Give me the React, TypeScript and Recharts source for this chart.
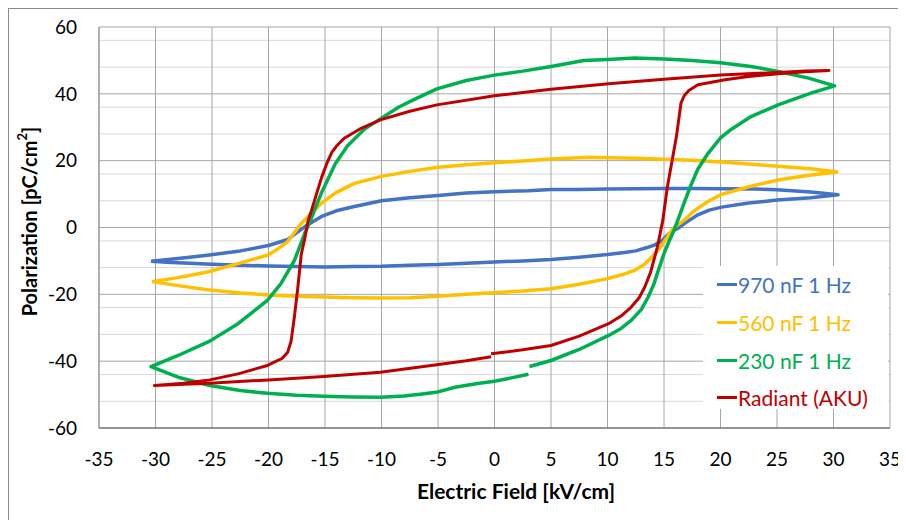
import { LineChart, Line, XAxis, YAxis, CartesianGrid, Legend } from "recharts";

const FONT = "Lato, 'Liberation Sans', sans-serif";

// axis ticks and grid positions
const xTicks = [-35, -30, -25, -20, -15, -10, -5, 0, 5, 10, 15, 20, 25, 30, 35];
const yTicks = [-60, -40, -20, 0, 20, 40, 60];
const yMinor = [
  -56, -52, -48, -44, -36, -32, -28, -24, -16, -12, -8, -4,
  4, 8, 12, 16, 24, 28, 32, 36, 44, 48, 52, 56,
];

// [E field kV/cm, polarization] in recording order around each loop
const loop970: [number, number][] = [
  [-30.4, -10.1], [-29, -10.4], [-27, -10.7], [-25, -11.0], [-22.5, -11.3], [-20, -11.5],
  [-17.5, -11.7], [-15, -11.8], [-12.5, -11.7], [-10, -11.6], [-7.5, -11.3], [-5, -11.1],
  [-2.5, -10.7], [0, -10.3], [2.5, -10.0], [5, -9.6], [7.5, -8.9], [10, -8.1], [11.5, -7.5],
  [12.5, -7.0], [13.5, -6.0], [14.2, -5.2], [14.8, -4.0], [15.3, -2.3], [15.8, -1.0],
  [16.2, -0.3], [16.8, 1.2], [17.4, 2.5], [18, 3.8], [19, 5.2], [20.1, 6.1], [22.5, 7.3],
  [25, 8.2], [28, 8.9], [30.4, 9.8],
  [28, 10.6], [25, 11.3], [23, 11.5], [20, 11.6], [17.5, 11.7], [15, 11.7], [12.5, 11.6],
  [10, 11.5], [7.5, 11.4], [5, 11.4], [3, 11.0], [0, 10.7], [-2.5, 10.3], [-5, 9.6],
  [-7.5, 8.9], [-10, 8.0], [-12.4, 6.3], [-14, 5.0], [-15.3, 3.3], [-16.2, 1.5],
  [-16.8, 0.2], [-17.5, -1.5], [-18.3, -3.6], [-20, -5.4], [-22.5, -7.0], [-25.4, -8.3],
  [-28, -9.3], [-30.4, -10.1],
];

const loop560: [number, number][] = [
  [-30.3, -16.2], [-28, -17.4], [-25.4, -18.6], [-22.5, -19.6], [-20, -20.2], [-17.5, -20.6],
  [-15, -20.8], [-12.5, -21.0], [-10, -21.1], [-7.5, -21.0], [-5, -20.6], [-2.5, -20.0],
  [0, -19.5], [2.5, -19.0], [5, -18.3], [7.5, -17.0], [10, -15.3], [11.5, -13.9],
  [12.4, -12.8], [13.2, -11.2], [13.8, -9.3], [14.3, -7.5], [14.7, -5.8], [15.1, -3.8],
  [15.5, -1.8], [15.8, -0.3], [16.3, 1.0], [16.8, 2.2], [17.4, 4.2], [18, 5.8], [19, 8.0],
  [20.1, 9.9], [22.5, 12.2], [25.1, 14.2], [27.5, 15.5], [30.3, 16.6],
  [28, 17.6], [25.1, 18.3], [22.5, 19.0], [20.1, 19.6], [17.5, 20.1], [15, 20.4],
  [12.5, 20.7], [10, 20.9], [8.5, 21.0], [5, 20.5], [2.5, 19.9], [0, 19.4], [-2.5, 18.8],
  [-5, 18.0], [-7.5, 16.8], [-10, 15.3], [-12.4, 13.2], [-14.1, 10.3], [-15.3, 7.3],
  [-16.5, 3.3], [-17.2, 0.8], [-17.7, -1.5], [-18.3, -4.2], [-19.2, -6.5], [-20.1, -8.3],
  [-22.7, -10.8], [-25.4, -13.3], [-28, -15.0], [-30.3, -16.2],
];

const loop230: [number, number][] = [
  [3.1, -41.6], [5, -39.8], [7.5, -36.5], [10.1, -32.3], [11.2, -30.2], [12.1, -27.8],
  [13, -24.5], [13.6, -20.8], [14.1, -17.0], [14.4, -13.8], [15, -7.8], [15.4, -4.5],
  [15.8, -1.5], [16.2, 2.0], [16.8, 7.5], [17.4, 12.8], [18, 17.5], [18.9, 22.2],
  [20, 26.8], [21, 29.5], [22.7, 33.2], [25.1, 36.7], [28, 40.2], [30.1, 42.4],
  [27.8, 44.7], [25.1, 46.7], [22.7, 48.2], [20, 49.3], [17.5, 50.0], [15, 50.4],
  [12.4, 50.7], [10, 50.3], [7.9, 50.0], [5, 48.2], [2.5, 46.8], [0, 45.6], [-2.5, 44.0],
  [-5.1, 41.5], [-7, 38.5], [-8.5, 36.0], [-10.1, 32.5], [-11.5, 29.5], [-13, 24.5],
  [-14.1, 19.0], [-15.3, 10.5], [-16, 4.5], [-16.5, 0.5], [-16.8, -1.8], [-17.7, -9.8],
  [-18.9, -16.8], [-20.1, -21.8], [-22.7, -28.8], [-25.2, -34.0], [-28, -38.3],
  [-30.4, -41.6],
  [-28, -44.8], [-25.2, -47.3], [-22.5, -48.8], [-20.1, -49.6], [-17.5, -50.2],
  [-15.1, -50.5], [-12.5, -50.7], [-10.1, -50.8], [-8, -50.4], [-6.4, -49.8], [-5, -49.2],
  [-3.5, -47.8], [-1.5, -46.7], [0, -46.0], [1.5, -45.0], [3.0, -43.9],
];

const loopRadiant: [number, number][] = [
  [-0.3, -37.8], [2.5, -36.6], [5, -35.3], [7.5, -32.5], [10.1, -28.8], [11.2, -26.5],
  [12.1, -23.8], [12.8, -21.0], [13.3, -17.8], [13.8, -13.5], [14.1, -9.8], [14.4, -6.0],
  [14.6, -2.8], [14.9, 2.2], [15.3, 12.2], [16.1, 27.2], [16.5, 37.2], [16.8, 39.5],
  [17.2, 41.0], [18, 42.7], [20.4, 44.2], [22.5, 45.2], [25.1, 46.0], [27.5, 46.6],
  [29.6, 47.0],
  [27.5, 46.8], [25.1, 46.4], [20, 45.6], [15, 44.4], [10.1, 43.0], [5, 41.4], [0, 39.4],
  [-5.1, 36.7], [-7.5, 34.8], [-10.1, 32.2], [-11.8, 29.7], [-13.3, 26.7], [-14, 24.3],
  [-14.4, 22.5], [-14.8, 19.5], [-15.3, 15.0], [-15.8, 9.5], [-16.2, 5.0], [-16.5, 2.0],
  [-16.8, -3.5], [-17.1, -8.0], [-17.4, -17.8], [-17.7, -26.5], [-18, -34.0],
  [-18.3, -37.3], [-18.8, -39.2], [-19.5, -40.3], [-20.1, -41.3], [-22.7, -43.8],
  [-25.2, -45.6], [-27.5, -46.6], [-30.1, -47.3],
  [-27.5, -46.9], [-25.2, -46.6], [-20, -45.6], [-15.1, -44.6], [-10.1, -43.3],
  [-5.1, -41.1], [-2.5, -39.9], [-0.3, -38.7],
];

const toRows = (pts: [number, number][]) => pts.map(([x, y]) => ({ x, y }));

const series = [
  { name: "970 nF 1 Hz", color: "#4472C4", width: 3.5, pts: loop970 },
  { name: "560 nF 1 Hz", color: "#FFC000", width: 3.5, pts: loop560 },
  { name: "230 nF 1 Hz", color: "#00B050", width: 3.5, pts: loop230 },
  { name: "Radiant (AKU)", color: "#C00000", width: 3, pts: loopRadiant },
];

// legend rows follow the series order, not the payload order
const renderLegend = () => (
  <div style={{ background: "#fff", width: 185, height: 143, fontFamily: FONT, fontSize: 21 }}>
    {series.map((s) => (
      <div
        key={s.name}
        style={{ display: "flex", alignItems: "center", height: 37.7, color: s.color, whiteSpace: "nowrap" }}
      >
        <span
          style={{ display: "inline-block", width: 20, height: 3, background: s.color, marginLeft: 14, marginRight: 1 }}
        />
        {s.name}
      </div>
    ))}
  </div>
);

const XTitle = () => (
  <text x={507} y={481} textAnchor="middle" dominantBaseline="central" fontFamily={FONT} fontSize={21} fontWeight={700} fill="#000">
    Electric Field [kV/cm]
  </text>
);

const YTitle = (props: any) => {
  const vb = props.viewBox || { y: 18, height: 401 };
  const cy = vb.y + vb.height / 2 - 6;
  return (
    <text
      x={20}
      y={cy}
      transform={`rotate(-90, 20, ${cy})`}
      textAnchor="middle"
      dominantBaseline="central"
      fontFamily={FONT}
      fontSize={20}
      fontWeight={700}
      fill="#000"
    >
      Polarization [pC/cm
      <tspan dy={-7} fontSize={13}>2</tspan>
      <tspan dy={7}>]</tspan>
    </text>
  );
};

export default function App() {
  return (
    <div
      style={{
        width: 897,
        height: 511,
        borderTop: "1px solid #8c8c8c",
        borderLeft: "1px solid #8c8c8c",
        background: "#fff",
        position: "relative",
      }}
    >
      <LineChart width={897} height={511} margin={{ top: 18, right: 16, bottom: 0, left: 0 }}>
        <CartesianGrid horizontalValues={yMinor} vertical={false} stroke="#d9d9d9" />
        <CartesianGrid horizontalValues={yTicks} verticalValues={xTicks} stroke="#a6a6a6" />
        <XAxis
          type="number"
          dataKey="x"
          domain={[-35, 35]}
          ticks={xTicks}
          allowDataOverflow
          height={92}
          tickLine={false}
          tickSize={0}
          tickMargin={25}
          axisLine={{ stroke: "#595959" }}
          tick={{ fill: "#000", fontSize: 19, fontFamily: FONT }}
          label={{ content: XTitle }}
        />
        <YAxis
          type="number"
          domain={[-60, 60]}
          ticks={yTicks}
          allowDataOverflow
          width={90}
          tickLine={false}
          tickSize={0}
          tickMargin={22}
          axisLine={{ stroke: "#8c8c8c" }}
          tick={{ fill: "#000", fontSize: 19, fontFamily: FONT }}
          label={{ content: YTitle }}
        />
        {series.map((s) => (
          <Line
            key={s.name}
            data={toRows(s.pts)}
            dataKey="y"
            name={s.name}
            type="linear"
            stroke={s.color}
            strokeWidth={s.width}
            strokeLinejoin="round"
            dot={false}
            activeDot={false}
            isAnimationActive={false}
          />
        ))}
        <Legend
          layout="horizontal"
          verticalAlign="middle"
          align="center"
          content={renderLegend}
          wrapperStyle={{ left: 694, top: 257, width: 185, height: 143 }}
        />
      </LineChart>
    </div>
  );
}
